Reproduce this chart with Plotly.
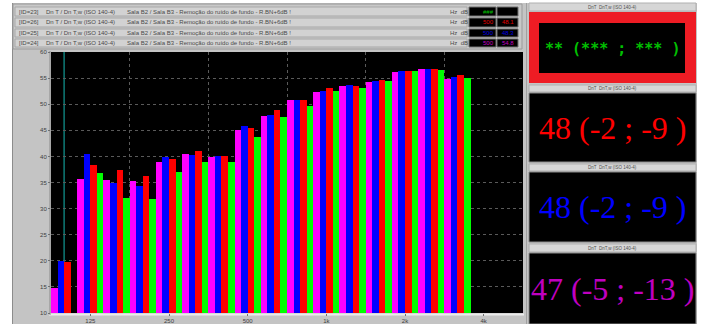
import plotly.graph_objects as go

# Third-octave bands (Hz) and measured levels (dB) for four measurements
bands = ["100", "125", "160", "200", "250", "315", "400", "500", "630",
         "800", "1k", "1.25k", "1.6k", "2k", "2.5k", "3.15k"]
magenta_vals = [14.7, 35.7, 35.5, 35.3, 39.0, 40.5, 39.8, 45.1, 47.8,
                50.9, 52.3, 53.5, 54.3, 56.2, 56.7, 54.9]
blue_vals = [20.0, 40.5, 35.0, 34.4, 39.8, 40.3, 40.1, 45.9, 48.0,
             50.9, 52.5, 53.6, 54.5, 56.4, 56.8, 55.3]
red_vals = [19.8, 38.4, 37.3, 36.3, 39.5, 41.1, 40.0, 45.4, 48.8,
            50.9, 53.2, 53.5, 54.7, 56.4, 56.8, 55.5]
green_vals = [None, 36.8, 32.0, 31.8, 37.1, 38.9, 39.0, 43.8, 47.5,
              49.7, 52.6, 53.2, 54.5, 56.3, 56.6, 55.0]

octave_labels = ["125", "250", "500", "1k", "2k", "4k"]
octave_index = [1, 4, 7, 10, 13, 16]
y_ticks = [10, 15, 20, 25, 30, 35, 40, 45, 50, 55, 60]

series = [
    ("ID=24", magenta_vals, "#ff00ff"),
    ("ID=25", blue_vals, "#0000ff"),
    ("ID=26", red_vals, "#ff0000"),
    ("ID=23", green_vals, "#00ff00"),
]

header_rows = [
    ("[ID=23]", "#00c000", ("###", "")),
    ("[ID=26]", "#e00000", ("500", "48.1")),
    ("[ID=25]", "#0000e0", ("500", "48.3")),
    ("[ID=24]", "#c000c0", ("500", "54.8")),
]
header_mid = "Dn T / Dn T,w (ISO 140-4)"
header_desc = "Sala B2 / Sala B3 - Remoção do ruído de fundo - R.BN+6dB !"

panel_texts = [
    ("** (*** ; *** )", "#00c000"),
    ("48 (-2 ; -9 )", "#ff0000"),
    ("48 (-2 ; -9 )", "#0000ff"),
    ("47 (-5 ; -13 )", "#c000c0"),
]
panel_title = "DnT  DnT,w (ISO 140-4)"

W, H = 704, 324
PL, PR, PT, PB = 51, 523, 52, 313


def px(x):
    return (x - PL) / (PR - PL)


def py(y):
    return (PB - y) / (PB - PT)


x_idx = list(range(len(bands)))

fig = go.Figure()
for name, vals, col in series:
    fig.add_trace(go.Bar(x=x_idx, y=vals, name=name, marker=dict(color=col, line=dict(width=0)),
                         hovertext=bands))

shapes = []
annots = []


def rect(x0, y0, x1, y1, fill, line=None, lw=0, layer="below"):
    shapes.append(dict(type="rect", xref="paper", yref="paper",
                       x0=px(x0), x1=px(x1), y0=py(y1), y1=py(y0),
                       fillcolor=fill, line=dict(color=line or fill, width=lw), layer=layer))


def hline(x0, x1, y, color, w=1):
    shapes.append(dict(type="line", xref="paper", yref="paper", x0=px(x0), x1=px(x1),
                       y0=py(y), y1=py(y), line=dict(color=color, width=w), layer="below"))


def vline(x, y0, y1, color, w=1):
    shapes.append(dict(type="line", xref="paper", yref="paper", x0=px(x), x1=px(x),
                       y0=py(y0), y1=py(y1), line=dict(color=color, width=w), layer="below"))


def text(x, y, s, color, size, family="Arial", xanchor="center", weight=None):
    f = dict(color=color, size=size, family=family)
    if weight:
        f["weight"] = weight
    annots.append(dict(xref="paper", yref="paper", x=px(x), y=py(y), text=s,
                       showarrow=False, xanchor=xanchor, yanchor="middle", font=f))


# white window margins around the grey application area
rect(0, 0, 12, 324, "#ffffff")
rect(0, 0, 704, 3, "#ffffff")
rect(697, 0, 704, 324, "#ffffff")
vline(12.5, 3, 324, "#8c8c8c")
vline(526.5, 3, 324, "#a0a0a0")

# header rows
rect(13, 4, 522, 49, "#c8c8c8", "#9a9a9a", 1)
row_y = [(7, 16), (18, 27), (29, 37), (39, 47)]
for (tag, col, vals), (y0, y1) in zip(header_rows, row_y):
    rect(15, y0, 467, y1, "#d2d2d2", "#a8a8a8", 1)
    yc = (y0 + y1) / 2
    text(17, yc, tag, "#4a4a4a", 6, xanchor="left")
    text(44, yc, header_mid, "#4a4a4a", 6, xanchor="left")
    text(125, yc, header_desc, "#4a4a4a", 6, xanchor="left")
    text(448, yc, "Hz  dB", "#4a4a4a", 6, xanchor="left")
    rect(469, y0, 496, y1, "#000000", "#707070", 1)
    rect(497, y0, 518, y1, "#000000", "#707070", 1)
    text(488, yc, vals[0], col, 6)
    text(508, yc, vals[1], col, 6)

# sunken frame around the plot area
hline(49, 524, 314.5, "#ececec", 2)
vline(50, 51, 315, "#8a8a8a")

# cursor line at the first band
shapes.append(dict(type="line", xref="x", yref="paper", x0=0, x1=0, y0=0, y1=1,
                   line=dict(color="#0e7c78", width=1.5), layer="below"))

# right-hand result panels
panels = [(3, 12, 83), (85, 93, 162), (164, 172, 242), (244, 253, 324)]
for i, ((t0, b0, b1), (s, col)) in enumerate(zip(panels, panel_texts)):
    rect(529, t0, 696, b0 - 1, "#d6d6d6", "#b0b0b0", 1)
    text(612, (t0 + b0) / 2 - 0.5, panel_title, "#505050", 4.5)
    if i == 0:
        rect(529, b0, 696, b1, "#ee1c24")
        rect(539, b0 + 11, 685, b1 - 10, "#000000")
        text(612, (b0 + b1) / 2 + 1, s, col, 15, family="DejaVu Sans Mono", weight="bold")
    else:
        rect(529, b0, 696, b1, "#000000", "#8a8a8a", 1)
        text(613, (b0 + b1) / 2, s, col, 32, family="Liberation Serif")

fig.update_layout(
    width=W, height=H,
    margin=dict(l=PL, r=W - PR, t=PT, b=H - PB),
    paper_bgcolor="#c4c4c4",
    plot_bgcolor="#000000",
    barmode="group", bargap=0, bargroupgap=0,
    showlegend=False,
    shapes=shapes, annotations=annots,
    xaxis=dict(range=[-0.5, 17.5], tickmode="array", tickvals=octave_index,
               ticktext=octave_labels, showgrid=False, zeroline=False, automargin=False,
               ticks="outside", ticklen=2, tickcolor="#707070",
               tickfont=dict(size=6, color="#404040", family="Arial"),
               minor=dict(tick0=2.5, dtick=3, showgrid=True, gridcolor="#5a5a5a",
                          griddash="dot", gridwidth=1, ticks="")),
    yaxis=dict(range=[10, 60], tickmode="array", tickvals=y_ticks, automargin=False,
               showgrid=True, gridcolor="#5a5a5a", griddash="dot", gridwidth=1,
               zeroline=False, ticks="outside", ticklen=2, tickcolor="#707070",
               tickfont=dict(size=6, color="#404040", family="Arial")),
)

fig.write_html("out.html")
